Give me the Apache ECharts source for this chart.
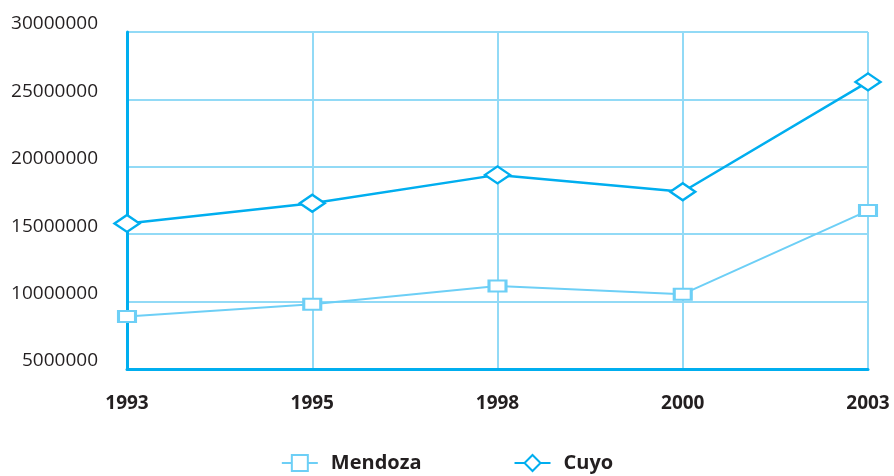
<!DOCTYPE html>
<html>
<head>
<meta charset="utf-8">
<style>
  html, body { margin: 0; padding: 0; background: #ffffff; }
  #chart { width: 894px; height: 476px; }
</style>
<script src="https://cdn.jsdelivr.net/npm/echarts@6/dist/echarts.min.js"></script>
</head>
<body>
<div id="chart"></div>
<script>
// Years on the horizontal axis
const years = ['1993', '1995', '1998', '2000', '2003'];
// Series values
const mendoza = [8900000, 9800000, 11150000, 10550000, 16750000];
const cuyo = [15800000, 17300000, 19400000, 18150000, 26300000];
// Value axis range
const yMin = 5000000;
const yMax = 30000000;
const yStep = 5000000;

const dark = '#00aeef';
const light = '#6dcff6';
const grid = '#92daf6';
const textFont = '"Open Sans", "Noto Sans", sans-serif';

const chart = echarts.init(document.getElementById('chart'), null, { renderer: 'canvas' });
chart.setOption({
  animation: false,
  backgroundColor: '#ffffff',
  grid: { left: 127, right: 26, top: 32, bottom: 107, containLabel: false },
  legend: {
    top: 448,
    left: 'center',
    itemGap: 92,
    itemWidth: 36,
    itemHeight: 20,
    textStyle: {
      fontFamily: textFont, fontSize: 20, fontWeight: 'bold', color: '#231f20',
      padding: [0, 0, 0, 8]
    },
    data: ['Mendoza', 'Cuyo']
  },
  xAxis: {
    type: 'category',
    data: years,
    boundaryGap: false,
    axisLine: { show: true, lineStyle: { color: dark, width: 3 } },
    axisTick: { show: false },
    axisLabel: {
      margin: 25,
      fontFamily: textFont, fontSize: 19, fontWeight: 'bold', color: '#231f20'
    },
    splitLine: { show: true, lineStyle: { color: grid, width: 2 } }
  },
  yAxis: {
    type: 'value',
    min: yMin,
    max: yMax,
    interval: yStep,
    axisLine: { show: true, lineStyle: { color: dark, width: 3 } },
    axisTick: { show: false },
    axisLabel: {
      margin: 29,
      verticalAlign: 'bottom',
      lineHeight: 16,
      fontFamily: textFont, fontSize: 19, color: '#231f20',
      formatter: v => String(v)
    },
    splitLine: { show: true, lineStyle: { color: grid, width: 2 } }
  },
  series: [
    {
      name: 'Mendoza',
      type: 'line',
      data: mendoza,
      symbol: 'rect',
      symbolSize: [17, 11],
      showAllSymbol: true,
      lineStyle: { color: light, width: 2 },
      itemStyle: { color: '#ffffff', borderColor: light, borderWidth: 2.5 },
      z: 3
    },
    {
      name: 'Cuyo',
      type: 'line',
      data: cuyo,
      symbol: 'diamond',
      symbolSize: [25, 17],
      showAllSymbol: true,
      lineStyle: { color: dark, width: 2.5 },
      itemStyle: { color: '#ffffff', borderColor: dark, borderWidth: 2.5 },
      z: 4
    }
  ]
});
</script>
</body>
</html>
